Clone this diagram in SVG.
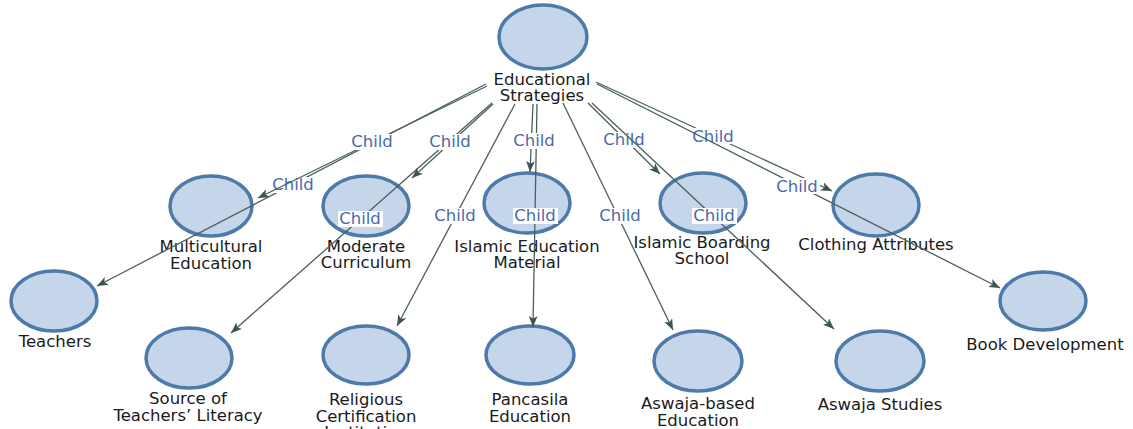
<svg xmlns="http://www.w3.org/2000/svg" width="1133" height="429" viewBox="0 0 1133 429">
<defs>
<style>
.node ellipse{fill:#c5d5ea;stroke:#4e7aaa;stroke-width:3.5}
.nl{font-family:"DejaVu Sans",Verdana,sans-serif;font-size:16.5px;fill:#1a1a1a;text-anchor:middle}
.edge line{stroke:#4a5f5b;stroke-width:1.3;marker-end:url(#arr)}
.lbg{fill:#fff}
.el{font-family:"DejaVu Sans",Verdana,sans-serif;font-size:16.5px;fill:#4a6aab;text-anchor:middle}
</style>
<marker id="arr" viewBox="0 0 10 8" refX="10" refY="4" markerWidth="11" markerHeight="9" markerUnits="userSpaceOnUse" orient="auto">
<path d="M0,0 L10,4 L0,8 L2.5,4 z" fill="#3d5450"/>
</marker>
</defs>
<rect width="1133" height="429" fill="#fff"/>
<g id="n-educational-strategies" class="node"><ellipse cx="543" cy="37" rx="44" ry="32"/><text class="nl" x="542" y="84.5">Educational</text><text class="nl" x="542" y="101">Strategies</text></g>
<g id="n-multicultural" class="node"><ellipse cx="211" cy="206" rx="41" ry="30"/><text class="nl" x="211" y="252">Multicultural</text><text class="nl" x="211" y="268.5">Education</text></g>
<g id="n-moderate" class="node"><ellipse cx="366" cy="206" rx="43" ry="30"/><text class="nl" x="366" y="251.5">Moderate</text><text class="nl" x="366" y="268">Curriculum</text></g>
<g id="n-islamic-ed" class="node"><ellipse cx="527" cy="203" rx="43" ry="30"/><text class="nl" x="527" y="251.5">Islamic Education</text><text class="nl" x="527" y="268">Material</text></g>
<g id="n-boarding" class="node"><ellipse cx="703" cy="203" rx="43" ry="30"/><text class="nl" x="702" y="247.5">Islamic Boarding</text><text class="nl" x="702" y="264">School</text></g>
<g id="n-clothing" class="node"><ellipse cx="876" cy="205" rx="43" ry="31"/><text class="nl" x="876" y="250">Clothing Attributes</text></g>
<g id="n-teachers" class="node"><ellipse cx="54" cy="301" rx="43" ry="30"/><text class="nl" x="55" y="347">Teachers</text></g>
<g id="n-source" class="node"><ellipse cx="189" cy="358" rx="43" ry="30"/><text class="nl" x="188" y="404">Source of</text><text class="nl" x="188" y="420.5">Teachers’ Literacy</text></g>
<g id="n-religious" class="node"><ellipse cx="366" cy="355" rx="43" ry="29"/><text class="nl" x="366" y="405">Religious</text><text class="nl" x="366" y="421.5">Certification</text><text class="nl" x="366" y="438">Institution</text></g>
<g id="n-pancasila" class="node"><ellipse cx="530" cy="355" rx="44" ry="29"/><text class="nl" x="530" y="405">Pancasila</text><text class="nl" x="530" y="421.5">Education</text></g>
<g id="n-aswaja-based" class="node"><ellipse cx="698" cy="361" rx="44" ry="30"/><text class="nl" x="698" y="409">Aswaja-based</text><text class="nl" x="698" y="425.5">Education</text></g>
<g id="n-aswaja-studies" class="node"><ellipse cx="880" cy="361" rx="44" ry="30"/><text class="nl" x="880" y="409.5">Aswaja Studies</text></g>
<g id="n-book" class="node"><ellipse cx="1043" cy="301" rx="43" ry="29"/><text class="nl" x="1045" y="349.5">Book Development</text></g>
<g id="connectors" class="edge">
<line x1="486" y1="84" x2="97" y2="286"/><rect class="lbg" x="271" y="177" width="45" height="16"/><text class="el" x="293" y="190">Child</text>
<line x1="487" y1="86" x2="258" y2="198"/><rect class="lbg" x="350" y="134" width="45" height="16"/><text class="el" x="372" y="146.5">Child</text>
<line x1="492" y1="103" x2="231" y2="333"/><rect class="lbg" x="338" y="211" width="45" height="16"/><text class="el" x="360" y="224">Child</text>
<line x1="493" y1="104" x2="412" y2="178"/><rect class="lbg" x="428" y="134" width="45" height="16"/><text class="el" x="450" y="146.5">Child</text>
<line x1="515" y1="104" x2="397" y2="326"/><rect class="lbg" x="433" y="208" width="45" height="16"/><text class="el" x="455" y="221">Child</text>
<line x1="537" y1="104" x2="533" y2="327"/><rect class="lbg" x="513" y="208" width="45" height="16"/><text class="el" x="535" y="221">Child</text>
<line x1="533" y1="104" x2="530" y2="172"/><rect class="lbg" x="512" y="133" width="45" height="16"/><text class="el" x="534" y="146">Child</text>
<line x1="563" y1="103" x2="673" y2="330"/><rect class="lbg" x="598" y="208" width="45" height="16"/><text class="el" x="620" y="221">Child</text>
<line x1="588" y1="103" x2="660" y2="174"/><rect class="lbg" x="602" y="132" width="45" height="16"/><text class="el" x="624" y="145">Child</text>
<line x1="592" y1="103" x2="834" y2="329"/><rect class="lbg" x="692" y="208" width="45" height="16"/><text class="el" x="714" y="221">Child</text>
<line x1="596" y1="82" x2="832" y2="191"/><rect class="lbg" x="691" y="128" width="45" height="16"/><text class="el" x="713" y="141.5">Child</text>
<line x1="597" y1="84" x2="1000" y2="288"/><rect class="lbg" x="775" y="178" width="45" height="16"/><text class="el" x="797" y="191.5">Child</text>
</g>
</svg>
